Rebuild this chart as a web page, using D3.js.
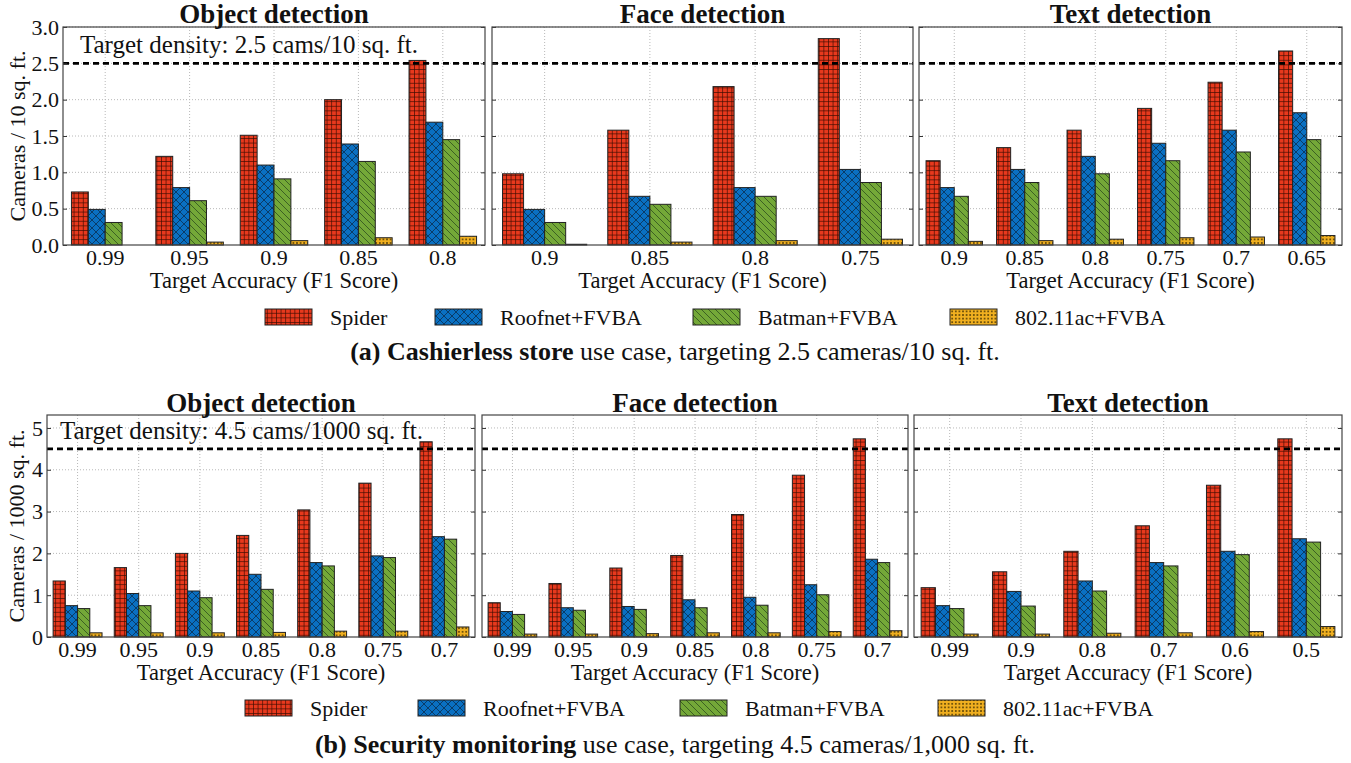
<!DOCTYPE html>
<html>
<head>
<meta charset="utf-8">
<script src="https://cdn.jsdelivr.net/npm/d3@7"></script>
<style>
  body { margin: 0; background: #fff; }
  svg text { font-family: "Liberation Serif", "Times New Roman", serif !important; fill: #111; }
</style>
</head>
<body>
<svg id="chart" width="1351" height="763"></svg>
<script>
const SERIES = ["Spider", "Roofnet+FVBA", "Batman+FVBA", "802.11ac+FVBA"];
const COLORS = ["#e8391d", "#0a70c2", "#74a838", "#f1b020"];

// (a) cashierless store
const cashObjCats = ["0.99", "0.95", "0.9", "0.85", "0.8"];
const cashObjSpider = [0.73, 1.22, 1.51, 2.00, 2.54];
const cashObjRoofnet = [0.49, 0.79, 1.10, 1.39, 1.69];
const cashObjBatman = [0.31, 0.61, 0.91, 1.15, 1.45];
const cashObjWifi = [0.0, 0.04, 0.06, 0.10, 0.12];

const cashFaceCats = ["0.9", "0.85", "0.8", "0.75"];
const cashFaceSpider = [0.98, 1.58, 2.18, 2.84];
const cashFaceRoofnet = [0.49, 0.67, 0.79, 1.04];
const cashFaceBatman = [0.31, 0.56, 0.67, 0.86];
const cashFaceWifi = [0.01, 0.04, 0.06, 0.08];

const cashTextCats = ["0.9", "0.85", "0.8", "0.75", "0.7", "0.65"];
const cashTextSpider = [1.16, 1.34, 1.58, 1.88, 2.24, 2.67];
const cashTextRoofnet = [0.79, 1.04, 1.22, 1.40, 1.58, 1.82];
const cashTextBatman = [0.67, 0.86, 0.98, 1.16, 1.28, 1.45];
const cashTextWifi = [0.05, 0.06, 0.08, 0.10, 0.11, 0.13];

// (b) security monitoring
const secObjCats = ["0.99", "0.95", "0.9", "0.85", "0.8", "0.75", "0.7"];
const secObjSpider = [1.34, 1.66, 2.00, 2.43, 3.04, 3.68, 4.67];
const secObjRoofnet = [0.75, 1.04, 1.10, 1.50, 1.78, 1.94, 2.40];
const secObjBatman = [0.68, 0.75, 0.94, 1.14, 1.70, 1.90, 2.34];
const secObjWifi = [0.10, 0.10, 0.10, 0.11, 0.14, 0.14, 0.24];

const secFaceCats = ["0.99", "0.95", "0.9", "0.85", "0.8", "0.75", "0.7"];
const secFaceSpider = [0.82, 1.28, 1.65, 1.95, 2.93, 3.87, 4.74];
const secFaceRoofnet = [0.61, 0.70, 0.73, 0.89, 0.95, 1.25, 1.86];
const secFaceBatman = [0.54, 0.64, 0.66, 0.70, 0.76, 1.01, 1.78];
const secFaceWifi = [0.07, 0.07, 0.08, 0.10, 0.10, 0.13, 0.15];

const secTextCats = ["0.99", "0.9", "0.8", "0.7", "0.6", "0.5"];
const secTextSpider = [1.18, 1.56, 2.05, 2.66, 3.63, 4.74];
const secTextRoofnet = [0.75, 1.09, 1.34, 1.78, 2.05, 2.35];
const secTextBatman = [0.68, 0.74, 1.10, 1.70, 1.97, 2.27];
const secTextWifi = [0.07, 0.07, 0.09, 0.10, 0.13, 0.25];

const TITLES = ["Object detection", "Face detection", "Text detection"];
const cashTicks = [0, 0.5, 1.0, 1.5, 2.0, 2.5, 3.0];
const secTicks = [0, 1, 2, 3, 4, 5];

const svg = d3.select("#chart");

// hatch patterns
const defs = svg.append("defs");
function pattern(id, size, color, draw) {
  let p = defs.append("pattern").attr("id", id)
    .attr("patternUnits", "userSpaceOnUse")
    .attr("width", size).attr("height", size);
  p.append("rect").attr("width", size).attr("height", size).attr("fill", color);
  draw(p);
}
pattern("hatch0", 4.6, COLORS[0], p => p.append("path")
  .attr("d", "M0,0.3H4.6M0.3,0V4.6").attr("stroke", "#3a0a00").attr("stroke-width", 0.8));
pattern("hatch1", 8, COLORS[1], p => p.append("path")
  .attr("d", "M0,0L8,8M8,0L0,8").attr("stroke", "#0a2540").attr("stroke-width", 0.7));
pattern("hatch2", 7, COLORS[2], p => p.append("path")
  .attr("d", "M0,0L7,7M-1,6L1,8M6,-1L8,1").attr("stroke", "#24401a").attr("stroke-width", 0.7));
pattern("hatch3", 3.6, COLORS[3], p => p.append("circle")
  .attr("cx", 1.8).attr("cy", 1.8).attr("r", 0.85).attr("fill", "#3a2a00"));

const rows = [
  {
    top: 27, bottom: 245, ymax: 3.0, ticks: cashTicks, fmt: d3.format(".1f"),
    target: 2.5, ylabel: "Cameras / 10 sq. ft.", ylabelX: 17,
    note: "Target density: 2.5 cams/10 sq. ft.", noteX: 80, noteY: 53,
    titleY: 23,
    panels: [
      { x0: 63, x1: 485, cats: cashObjCats, vals: [cashObjSpider, cashObjRoofnet, cashObjBatman, cashObjWifi] },
      { x0: 492, x1: 913, cats: cashFaceCats, vals: [cashFaceSpider, cashFaceRoofnet, cashFaceBatman, cashFaceWifi] },
      { x0: 919, x1: 1342, cats: cashTextCats, vals: [cashTextSpider, cashTextRoofnet, cashTextBatman, cashTextWifi] }
    ],
    legendY: 309, legendX: [265, 435, 693, 950],
    caption: ["(a) Cashierless store", " use case, targeting 2.5 cameras/10 sq. ft."], captionY: 360
  },
  {
    top: 415, bottom: 637, ymax: 5.31, ticks: secTicks, fmt: d3.format("d"),
    target: 4.5, ylabel: "Cameras / 1000 sq. ft.", ylabelX: 16,
    note: "Target density: 4.5 cams/1000 sq. ft.", noteX: 60, noteY: 439,
    titleY: 412,
    panels: [
      { x0: 47, x1: 475, cats: secObjCats, vals: [secObjSpider, secObjRoofnet, secObjBatman, secObjWifi] },
      { x0: 482, x1: 908, cats: secFaceCats, vals: [secFaceSpider, secFaceRoofnet, secFaceBatman, secFaceWifi] },
      { x0: 914, x1: 1342, cats: secTextCats, vals: [secTextSpider, secTextRoofnet, secTextBatman, secTextWifi] }
    ],
    legendY: 700, legendX: [245, 418, 680, 938],
    caption: ["(b) Security monitoring", " use case, targeting 4.5 cameras/1,000 sq. ft."], captionY: 753
  }
];

rows.forEach(row => {
  const y = d3.scaleLinear().domain([0, row.ymax]).range([row.bottom, row.top]);

  row.panels.forEach((pn, pi) => {
    const x = d3.scaleBand().domain(pn.cats).range([pn.x0, pn.x1]);
    const bw = x.bandwidth();
    const xs = d3.scaleBand().domain(SERIES).range([bw * 0.1, bw * 0.9]);
    const g = svg.append("g");

    // grid
    g.append("g").selectAll("line").data(row.ticks.slice(1)).join("line")
      .attr("x1", pn.x0).attr("x2", pn.x1)
      .attr("y1", d => y(d)).attr("y2", d => y(d))
      .attr("stroke", "#b8b8b8").attr("stroke-dasharray", "1,2");
    g.append("g").selectAll("line").data(pn.cats).join("line")
      .attr("x1", d => x(d) + bw / 2).attr("x2", d => x(d) + bw / 2)
      .attr("y1", row.top).attr("y2", row.bottom)
      .attr("stroke", "#b8b8b8").attr("stroke-dasharray", "1,2");

    // bars
    SERIES.forEach((s, si) => {
      g.append("g").selectAll("rect").data(pn.cats).join("rect")
        .attr("x", d => x(d) + xs(s))
        .attr("width", xs.bandwidth())
        .attr("y", (d, i) => y(pn.vals[si][i]))
        .attr("height", (d, i) => row.bottom - y(pn.vals[si][i]))
        .attr("fill", "url(#hatch" + si + ")")
        .attr("stroke", "#222").attr("stroke-width", 1)
        .attr("stroke-opacity", (d, i) => pn.vals[si][i] > 0 ? 1 : 0);
    });

    // target line
    g.append("line")
      .attr("x1", pn.x0).attr("x2", pn.x1)
      .attr("y1", y(row.target)).attr("y2", y(row.target))
      .attr("stroke", "#000").attr("stroke-width", 2.6).attr("stroke-dasharray", "6,4");

    // axes
    const yAxis = d3.axisLeft(y).tickValues(row.ticks).tickSizeInner(-4).tickSizeOuter(0).tickPadding(4)
      .tickFormat(pi === 0 ? row.fmt : "");
    const ya = g.append("g").attr("transform", `translate(${pn.x0},0)`).call(yAxis);
    ya.select(".domain").remove();
    ya.selectAll("line").attr("stroke", "#333");
    ya.selectAll("text").style("font-size", "22px").attr("fill", "#111");
    const yr = g.append("g").attr("transform", `translate(${pn.x1},0)`)
      .call(d3.axisRight(y).tickValues(row.ticks).tickSizeInner(-4).tickSizeOuter(0).tickFormat(""));
    yr.select(".domain").remove();
    yr.selectAll("line").attr("stroke", "#333");

    const xa = g.append("g").attr("transform", `translate(0,${row.bottom})`)
      .call(d3.axisBottom(x).tickSizeInner(0).tickSizeOuter(0).tickPadding(4));
    xa.select(".domain").remove();
    xa.selectAll("text").style("font-size", "22px").attr("fill", "#111");

    // frame
    g.append("rect")
      .attr("x", pn.x0).attr("y", row.top)
      .attr("width", pn.x1 - pn.x0).attr("height", row.bottom - row.top)
      .attr("fill", "none").attr("stroke", "#444").attr("stroke-width", 1.2);

    // titles
    g.append("text").attr("x", (pn.x0 + pn.x1) / 2).attr("y", row.titleY)
      .attr("text-anchor", "middle").style("font-size", "27px").style("font-weight", "bold")
      .text(TITLES[pi]);
    g.append("text").attr("x", (pn.x0 + pn.x1) / 2).attr("y", row.bottom + 43)
      .attr("text-anchor", "middle").style("font-size", "22.5px")
      .text("Target Accuracy (F1 Score)");
  });

  // target note
  svg.append("text").attr("x", row.noteX).attr("y", row.noteY)
    .style("font-size", "25px").text(row.note);

  // y label
  svg.append("text")
    .attr("transform", `translate(${row.ylabelX},${(row.top + row.bottom) / 2}) rotate(-90)`)
    .attr("text-anchor", "middle").attr("dy", "0.35em").style("font-size", "22px")
    .text(row.ylabel);

  // legend
  const lg = svg.append("g");
  SERIES.forEach((s, si) => {
    lg.append("rect").attr("x", row.legendX[si]).attr("y", row.legendY)
      .attr("width", 47).attr("height", 16)
      .attr("fill", "url(#hatch" + si + ")").attr("stroke", "#222");
    lg.append("text").attr("x", row.legendX[si] + 65).attr("y", row.legendY + 16)
      .style("font-size", "22px").text(s);
  });

  // caption
  const cap = svg.append("text").attr("x", 675).attr("y", row.captionY)
    .attr("text-anchor", "middle").style("font-size", "26px");
  cap.append("tspan").style("font-weight", "bold").text(row.caption[0]);
  cap.append("tspan").text(row.caption[1]);
});
</script>
</body>
</html>
